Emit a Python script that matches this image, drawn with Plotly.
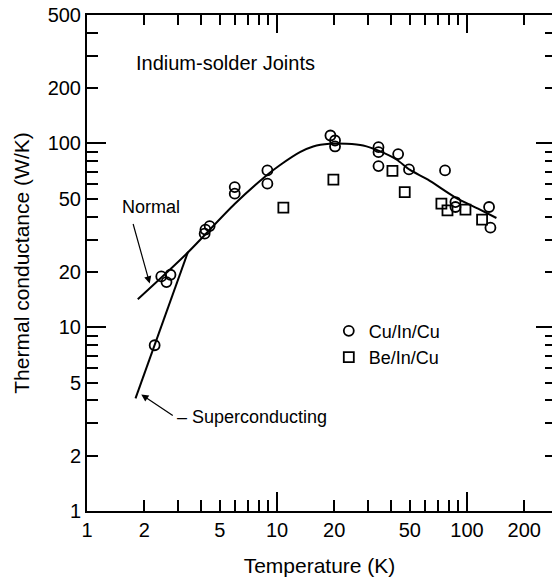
import math
import plotly.graph_objects as go

# ---- data ----
cu_T = [2.27, 2.46, 2.62, 2.75, 4.16, 4.2, 4.42, 5.99, 5.99, 8.9, 8.9,
        19.1, 20.2, 20.2, 34.2, 34.2, 34.2, 43.4, 49.5, 76.6, 86.9, 86.9, 130.6, 132.8]
cu_K = [7.98, 18.9, 17.6, 19.3, 32.3, 34.0, 35.5, 57.9, 53.3, 71.3, 60.4,
        110.5, 103.8, 96.3, 95.5, 89.7, 75.3, 87.5, 72.2, 71.3, 48.0, 45.1, 45.1, 34.8]

be_T = [10.8, 19.8, 40.5, 47.0, 73.3, 78.9, 98.1, 120.0]
be_K = [44.7, 63.5, 71.0, 54.4, 47.0, 43.2, 43.6, 38.5]

normal_T = [1.85, 3.34, 6.0, 8.8, 10.3, 13.2, 15.5, 18.9, 23.2, 28.4, 34.7, 42.5,
            49.9, 62.3, 86.1, 114.3, 142.8]
normal_K = [14.2, 25.1, 47.0, 67.0, 75.9, 89.7, 96.3, 99.6, 99.6, 97.5, 90.8, 81.8,
            72.0, 63.5, 51.1, 44.2, 39.3]

super_T = [1.80, 3.4]
super_K = [4.1, 25.7]

x_major = [1, 2, 5, 10, 20, 50, 100, 200]
x_minor = [3, 4, 6, 7, 8, 9, 30, 40, 60, 70, 80, 90]
x_decades = [10, 100]
x_top_minor = [2, 3, 4, 5, 6, 7, 8, 9, 20, 30, 40, 50, 60, 70, 80, 90, 200]

y_major = [1, 2, 5, 10, 20, 50, 100, 200, 500]
y_minor = [3, 4, 6, 7, 8, 9, 30, 40, 60, 70, 80, 90, 300, 400]
y_decades = [10, 100]
y_right_minor = [2, 3, 4, 5, 6, 7, 8, 9, 20, 30, 40, 50, 60, 70, 80, 90, 200, 300, 400]

X_MAX = 280
Y_MAX = 500

FONT = "Liberation Sans, Arial, Helvetica, sans-serif"
BLACK = "black"

fig = go.Figure()

fig.add_trace(go.Scatter(x=normal_T, y=normal_K, mode="lines",
                         line=dict(color=BLACK, width=2, shape="spline", smoothing=0.8),
                         showlegend=False, hoverinfo="skip"))
fig.add_trace(go.Scatter(x=super_T, y=super_K, mode="lines",
                         line=dict(color=BLACK, width=2),
                         showlegend=False, hoverinfo="skip"))
fig.add_trace(go.Scatter(x=cu_T, y=cu_K, mode="markers", name="Cu/In/Cu",
                         marker=dict(symbol="circle-open", size=10, color=BLACK,
                                     line=dict(width=1.8, color=BLACK))))
fig.add_trace(go.Scatter(x=be_T, y=be_K, mode="markers", name="Be/In/Cu",
                         marker=dict(symbol="square-open", size=10, color=BLACK,
                                     line=dict(width=1.8, color=BLACK))))

# invisible anchors for the overlay axes (ticks only)
fig.add_trace(go.Scatter(x=[10], y=[10], xaxis="x2", yaxis="y3", mode="markers",
                         marker=dict(opacity=0), showlegend=False, hoverinfo="skip"))
fig.add_trace(go.Scatter(x=[10], y=[10], xaxis="x3", yaxis="y2", mode="markers",
                         marker=dict(opacity=0), showlegend=False, hoverinfo="skip"))

xr = [0, math.log10(X_MAX)]
yr = [0, math.log10(Y_MAX)]

common = dict(type="log", showgrid=False, zeroline=False, tickcolor=BLACK,
              linecolor=BLACK)

fig.update_layout(
    width=552, height=579,
    margin=dict(l=87, r=0, t=15, b=68),
    paper_bgcolor="white", plot_bgcolor="white",
    font=dict(family=FONT, color=BLACK, size=18),
    xaxis=dict(**common, range=xr, showline=True, linewidth=2, mirror=False,
               ticks="inside", ticklen=11, tickwidth=1.5,
               tickmode="array", tickvals=x_major, ticktext=[str(v) for v in x_major],
               tickfont=dict(size=20),
               minor=dict(tickmode="array", tickvals=x_minor, ticks="inside",
                          ticklen=11, tickwidth=1.5, tickcolor=BLACK),
               title=dict(text="Temperature (K)", font=dict(size=21), standoff=18)),
    xaxis2=dict(**common, range=xr, overlaying="x", side="top", anchor="y",
                showline=True, linewidth=2, ticks="inside", ticklen=18, tickwidth=1.5,
                tickmode="array", tickvals=x_decades, showticklabels=False,
                minor=dict(tickmode="array", tickvals=x_top_minor, ticks="inside",
                           ticklen=10, tickwidth=1.5, tickcolor=BLACK)),
    xaxis3=dict(**common, range=xr, overlaying="x", side="bottom", anchor="y",
                showline=False, ticks="inside", ticklen=19, tickwidth=1.5,
                tickmode="array", tickvals=x_decades, showticklabels=False),
    yaxis=dict(**common, range=yr, showline=True, linewidth=2, mirror=False,
               ticks="inside", ticklen=11, tickwidth=1.5,
               tickmode="array", tickvals=y_major, ticktext=[str(v) for v in y_major],
               tickfont=dict(size=20),
               minor=dict(tickmode="array", tickvals=y_minor, ticks="inside",
                          ticklen=11, tickwidth=1.5, tickcolor=BLACK),
               title=dict(text="Thermal conductance (W/K)", font=dict(size=21), standoff=12)),
    yaxis2=dict(**common, range=yr, overlaying="y", side="left", anchor="x",
                showline=False, ticks="inside", ticklen=19, tickwidth=1.5,
                tickmode="array", tickvals=y_decades, showticklabels=False),
    yaxis3=dict(**common, range=yr, overlaying="y", side="right", anchor="x",
                showline=False, ticks="inside", ticklen=16, tickwidth=1.5,
                tickmode="array", tickvals=y_decades, showticklabels=False,
                minor=dict(tickmode="array", tickvals=y_right_minor, ticks="inside",
                           ticklen=7, tickwidth=1.5, tickcolor=BLACK)),
    legend=dict(x=0.52, y=0.40, xanchor="left", yanchor="top",
                bgcolor="rgba(0,0,0,0)", font=dict(size=18), tracegroupgap=0),
    showlegend=True,
)

fig.add_annotation(text="Indium-solder Joints", xref="paper", yref="paper",
                   x=0.297, y=0.903, xanchor="center", yanchor="middle",
                   showarrow=False, font=dict(size=20))
fig.add_annotation(text="Normal", xref="paper", yref="paper",
                   x=0.1376, y=0.612, xanchor="center", yanchor="middle",
                   showarrow=False, font=dict(size=18))
fig.add_annotation(text="\u2013 Superconducting", xref="paper", yref="paper",
                   x=0.189, y=0.190, xanchor="left", yanchor="middle",
                   showarrow=False, font=dict(size=18))
# arrows
fig.add_annotation(text="", x=math.log10(2.138), y=math.log10(17.3), xref="x", yref="y",
                   showarrow=True, ax=-17, ay=-61, arrowhead=2, arrowsize=1.2,
                   arrowwidth=1.2, arrowcolor=BLACK)
fig.add_annotation(text="", x=math.log10(1.93), y=math.log10(4.31), xref="x", yref="y",
                   showarrow=True, ax=33, ay=22, arrowhead=2, arrowsize=1.2,
                   arrowwidth=1.2, arrowcolor=BLACK)

fig.write_html("out.html")
